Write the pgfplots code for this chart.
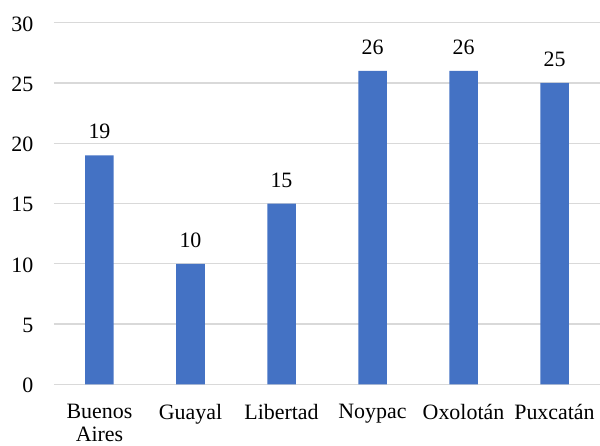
\documentclass[border=0pt]{standalone}
\usepackage{fontspec}
\setmainfont{Liberation Serif}
\usepackage{pgfplots}
\pgfplotsset{compat=1.18}
\definecolor{barblue}{HTML}{4472C4}
\definecolor{gridgray}{HTML}{D9D9D9}
\begin{document}
\begin{tikzpicture}
\begin{axis}[
  at={(0,0)}, anchor=south west,
  scale only axis, width=546bp, height=361.6bp,
  xmin=-0.5, xmax=5.5, ymin=0, ymax=30,
  ytick={0,5,10,15,20,25,30},
  xtick={0,1,2,3,4,5},
  xticklabels={{Buenos\\Aires},Guayal,Libertad,Noypac,Oxolotán,Puxcatán},
  /pgf/number format/assume math mode=true,
  tick label style={font=\fontsize{22}{23}\selectfont},
  xticklabel style={align=center, inner sep=0pt, anchor=north, yshift=-20bp},
  yticklabel style={inner sep=0pt, anchor=east, xshift=-20.5bp, yshift=-1.2bp},
  axis line style={draw=none},
  major tick length=0pt,
  ymajorgrids, grid style={gridgray, line width=1.3bp},
  clip=false,
]
\addplot[ybar, bar width=28.5bp, fill=barblue, draw=none,
  nodes near coords,
  every node near coord/.append style={font=\fontsize{22}{24}\selectfont, inner sep=0pt, anchor=south, yshift=16bp, text=black}]
  coordinates {(0,19) (1,10) (2,15) (3,26) (4,26) (5,25)};
\end{axis}
\pgfresetboundingbox
\path (-54bp,-61.7bp) rectangle (546bp,384.3bp);
\end{tikzpicture}
\end{document}
